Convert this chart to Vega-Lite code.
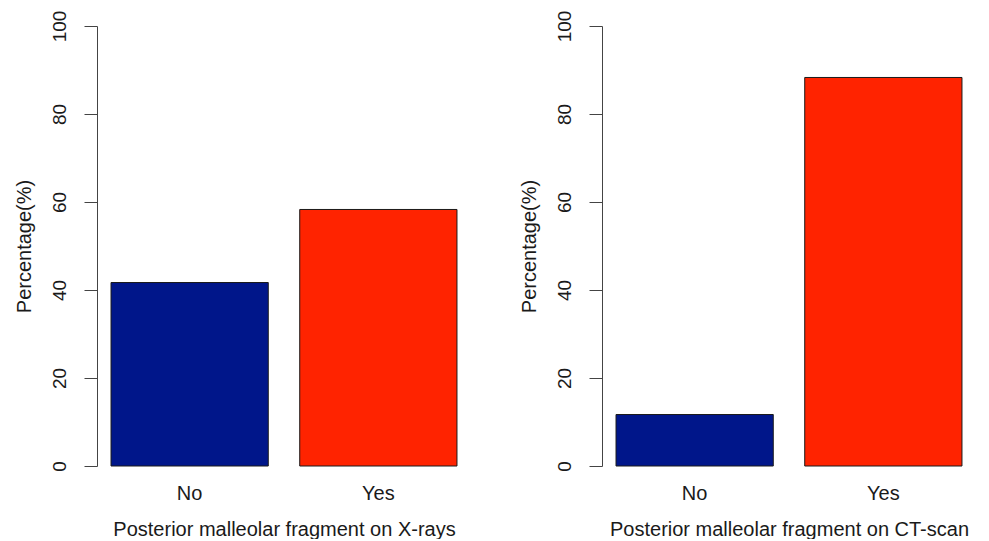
{
  "$schema": "https://vega.github.io/schema/vega-lite/v6.json",
  "padding": {"left": 13, "top": 10, "right": 5, "bottom": 0},
  "background": "#ffffff",
  "datasets": {
    "xray": [{"answer": "No", "pct": 41.7}, {"answer": "Yes", "pct": 58.3}],
    "ct": [{"answer": "No", "pct": 11.7}, {"answer": "Yes", "pct": 88.3}]
  },
  "config": {
    "view": {"stroke": null},
    "font": "Liberation Sans",
    "axis": {
      "labelFont": "Liberation Sans",
      "titleFont": "Liberation Sans",
      "labelColor": "#1a1a1a",
      "titleColor": "#1a1a1a",
      "titleFontWeight": "normal",
      "grid": false
    }
  },
  "spacing": 47,
  "hconcat": [
    {
      "width": 374,
      "height": 440,
      "data": {"name": "xray"},
      "mark": {"type": "bar", "stroke": "#1a1a1a", "strokeWidth": 1},
      "encoding": {
        "x": {
          "field": "answer", "type": "nominal", "sort": ["No", "Yes"],
          "scale": {"paddingInner": 0.1667, "paddingOuter": 0.0743},
          "axis": {"title": "Posterior malleolar fragment on X-rays", "labelAngle": 0, "domain": false, "ticks": false, "labelPadding": 17, "titlePadding": 16, "labelFontSize": 20, "titleFontSize": 20}
        },
        "y": {
          "field": "pct", "type": "quantitative",
          "scale": {"domain": [0, 100], "nice": false},
          "axis": {"title": "Percentage(%)", "values": [0, 20, 40, 60, 80, 100], "labelAngle": -90, "labelAlign": "center", "labelBaseline": "alphabetic", "labelFlush": false, "labelOverlap": false, "tickSize": 13, "labelPadding": 19, "labelFontSize": 19, "titleFontSize": 20, "titlePadding": 16, "domainColor": "#444444", "tickColor": "#444444"}
        },
        "color": {"field": "answer", "type": "nominal", "scale": {"domain": ["No", "Yes"], "range": ["#00168A", "#FF2300"]}, "legend": null}
      }
    },
    {
      "width": 374,
      "height": 440,
      "data": {"name": "ct"},
      "mark": {"type": "bar", "stroke": "#1a1a1a", "strokeWidth": 1},
      "encoding": {
        "x": {
          "field": "answer", "type": "nominal", "sort": ["No", "Yes"],
          "scale": {"paddingInner": 0.1667, "paddingOuter": 0.0743},
          "axis": {"title": "Posterior malleolar fragment on CT-scan", "labelAngle": 0, "domain": false, "ticks": false, "labelPadding": 17, "titlePadding": 16, "labelFontSize": 20, "titleFontSize": 20}
        },
        "y": {
          "field": "pct", "type": "quantitative",
          "scale": {"domain": [0, 100], "nice": false},
          "axis": {"title": "Percentage(%)", "values": [0, 20, 40, 60, 80, 100], "labelAngle": -90, "labelAlign": "center", "labelBaseline": "alphabetic", "labelFlush": false, "labelOverlap": false, "tickSize": 13, "labelPadding": 19, "labelFontSize": 19, "titleFontSize": 20, "titlePadding": 16, "domainColor": "#444444", "tickColor": "#444444"}
        },
        "color": {"field": "answer", "type": "nominal", "scale": {"domain": ["No", "Yes"], "range": ["#00168A", "#FF2300"]}, "legend": null}
      }
    }
  ]
}
